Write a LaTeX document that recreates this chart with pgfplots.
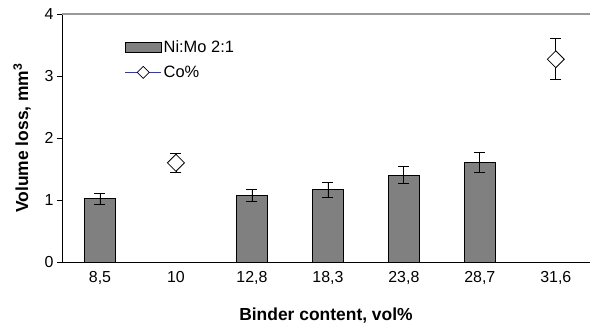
\documentclass[border=0pt]{standalone}
\usepackage{fontspec}
\setmainfont{Liberation Sans}
\usepackage{pgfplots}
\pgfplotsset{compat=1.18}
\definecolor{barfill}{HTML}{808080}
\definecolor{conavy}{HTML}{3A3A9A}
\begin{document}
\begin{tikzpicture}
\path[use as bounding box] (0,0) rectangle (590bp,329bp);
\begin{axis}[
  at={(62bp,67bp)}, anchor=south west,
  scale only axis, width=528bp, height=248bp,
  xmin=-0.5, xmax=6.45, ymin=0, ymax=4,
  axis x line*=bottom, axis y line*=left,
  axis line style={black, line width=0.8pt, -},
  xtick={0,...,6},
  xticklabels={8{,}5,10,12{,}8,18{,}3,23{,}8,28{,}7,31{,}6},
  x tick style={draw=none},
  extra x ticks={0.5,1.5,...,5.5},
  extra x tick labels={},
  extra x tick style={tick align=center, major tick length=10bp, tick style={black, line width=0.8pt}},
  ytick={0,1,2,3,4},
  y tick style={black, line width=0.8pt},
  ytick align=outside, major tick length=5bp,
  extra y ticks={4}, extra y tick labels={},
  extra y tick style={grid=major, major grid style={gray!80, line width=1.2pt}, major tick length=0pt},
  /pgf/number format/assume math mode=true,
  tick label style={font=\fontsize{16}{19}\selectfont},
  xticklabel style={yshift=-6bp},
  xlabel={\bfseries Binder content, vol\%},
  ylabel={\bfseries Volume loss, mm\textsuperscript{3}},
  label style={font=\fontsize{17.5}{20}\selectfont},
  xlabel style={yshift=-11bp},
  ylabel style={yshift=2bp},
  clip=false,
  legend style={at={(0.113,0.91)}, anchor=north west, draw=none, fill=none,
    font=\fontsize{16.5}{19}\selectfont, row sep=8bp,
    /tikz/every even column/.append style={column sep=4bp}},
  legend cell align=left,
]
\addplot[ybar, bar width=0.41, fill=barfill, draw=black, line width=0.8pt,
  legend image code/.code={\draw[fill=barfill, draw=black, line width=0.8pt] (0bp,-5bp) rectangle (36bp,5bp);},
  error bars/.cd, y dir=both, y explicit,
  error bar style={black, line width=0.8pt},
  error mark options={rotate=90, mark size=5.5bp, black, line width=0.8pt}]
  table[x=x, y=y, y error=e] {
  x y e
  0 1.02 0.09
  2 1.07 0.10
  3 1.17 0.12
  4 1.40 0.14
  5 1.61 0.16
  };
\addlegendentry{Ni:Mo 2:1}
\addplot[only marks, mark=square*, mark options={rotate=45, fill=white, draw=black, line width=0.8pt}, mark size=6bp,
  legend image code/.code={\draw[conavy, line width=0.8pt] (0bp,0bp)--(36bp,0bp); \draw[black, fill=white, line width=0.8pt] (18bp,-6bp)--(24bp,0bp)--(18bp,6bp)--(12bp,0bp)--cycle;},
  error bars/.cd, y dir=both, y explicit,
  error bar style={black, line width=0.8pt},
  error mark options={rotate=90, mark size=5.5bp, black, line width=0.8pt}]
  table[x=x, y=y, y error=e] {
  x y e
  1 1.60 0.15
  6 3.27 0.33
  };
\addlegendentry{Co\%}
\end{axis}
\end{tikzpicture}
\end{document}
